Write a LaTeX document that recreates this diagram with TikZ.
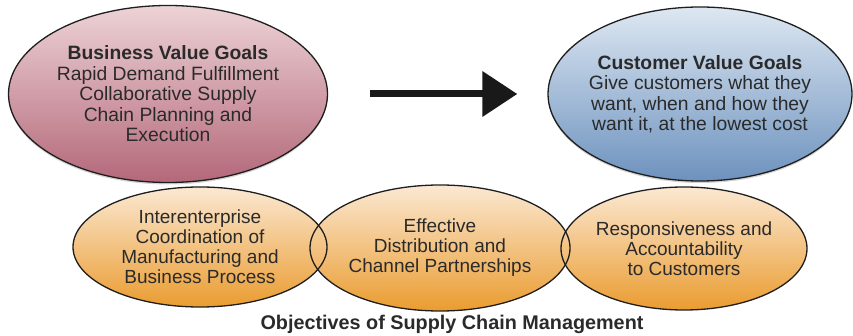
\documentclass[tikz,border=0pt]{standalone}
\usepackage{fontspec}
\setmainfont{Liberation Sans}
\usetikzlibrary{shapes.geometric,arrows.meta,shadows}
\definecolor{txt}{HTML}{2A2A2A}
\definecolor{edge}{HTML}{1E1E1E}
\definecolor{pinktop}{HTML}{EDD3D6}
\definecolor{pinkbot}{HTML}{B4687A}
\definecolor{bluetop}{HTML}{DDE7F2}
\definecolor{bluebot}{HTML}{6D92BE}
\definecolor{ortop}{HTML}{FBE8D2}
\definecolor{orbot}{HTML}{EA9C30}
\tikzset{
  goal/.style={ellipse, draw=edge, line width=1.3pt, inner sep=-40pt, align=center,
    text=txt, font=\fontsize{19.3}{20.5}\selectfont,
    drop shadow={shadow xshift=0pt, shadow yshift=-2pt, opacity=0.35}},
  objective/.style={ellipse, inner sep=-40pt, align=center, text=txt,
    font=\fontsize{19}{20}\selectfont, top color=ortop, bottom color=orbot},
  outline/.style={draw=edge, line width=1.3pt},
  pinkfill/.style={top color=pinktop, bottom color=pinkbot},
  bluefill/.style={top color=bluetop, bottom color=bluebot},
  bigarrow/.style={line width=7pt, draw=black!90, -{Triangle[length=35pt, width=44pt]}},
  caption/.style={font=\bfseries\fontsize{19.8}{20}\selectfont, text=txt}
}
\begin{document}
\begin{tikzpicture}[x=1pt, y=-1pt]
\useasboundingbox (0,0) rectangle (853,336);
% top goals
\node[goal, pinkfill, minimum width=319pt, minimum height=177pt] (bv) at (168,94)
  {\textbf{Business Value Goals}\\Rapid Demand Fulfillment\\Collaborative Supply\\Chain Planning and\\Execution};
\node[goal, bluefill, minimum width=304pt, minimum height=174pt] (cv) at (700,94)
  {\textbf{Customer Value Goals}\\Give customers what they\\want, when and how they\\want it, at the lowest cost};
\draw[bigarrow, shorten <=42pt, shorten >=30pt] (bv) -- (cv);
% objectives
\node[objective, minimum width=254pt, minimum height=120pt] (o1) at (200,247)
  {Interenterprise\\Coordination of\\Manufacturing and\\Business Process};
\node[objective, minimum width=246pt, minimum height=123pt] (o3) at (684,248.5)
  {Responsiveness and\\Accountability\\to Customers};
\node[objective, minimum width=260pt, minimum height=126pt] (o2) at (440,248)
  {Effective\\Distribution and\\Channel Partnerships};
\draw[outline] (o1.center) ellipse [x radius=127pt, y radius=60pt];
\draw[outline] (o3.center) ellipse [x radius=123pt, y radius=61.5pt];
\draw[outline] (o2.center) ellipse [x radius=130pt, y radius=63pt];
\node[caption] (cap) at (452,324) {Objectives of Supply Chain Management};
\end{tikzpicture}
\end{document}
